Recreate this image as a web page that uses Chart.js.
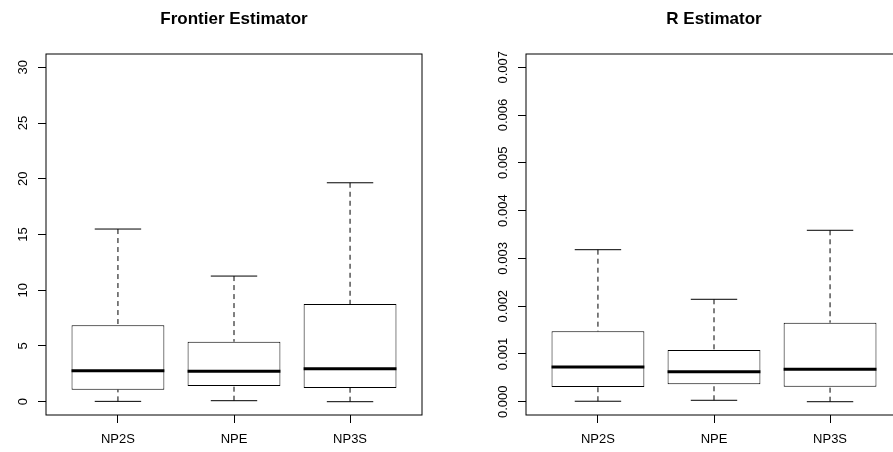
<!DOCTYPE html>
<html>
<head>
<meta charset="utf-8">
<script src="https://cdn.jsdelivr.net/npm/chart.js@4.4.1/dist/chart.umd.min.js"></script>
<style>
  html, body { margin: 0; padding: 0; background: #fff; overflow: hidden; }
  body { width: 893px; height: 452px; position: relative; }
  .panel { position: absolute; top: 0; height: 452px; }
  #left { left: 0; width: 446px; }
  #right { left: 446px; width: 480px; }
</style>
</head>
<body>
<div class="panel" id="left"><canvas id="frontierChart"></canvas></div>
<div class="panel" id="right"><canvas id="rChart"></canvas></div>
<script>
const categories = ['NP2S', 'NPE', 'NP3S'];

// five-number summaries
const frontierLow    = [0.03, 0.09, 0.0];
const frontierQ1     = [1.08, 1.41, 1.23];
const frontierMedian = [2.78, 2.73, 2.96];
const frontierQ3     = [6.85, 5.38, 8.76];
const frontierHigh   = [15.49, 11.27, 19.64];

const rLow    = [0.00001, 0.00003, 0.0];
const rQ1     = [0.000308, 0.000364, 0.000314];
const rMedian = [0.000726, 0.000628, 0.000678];
const rQ3     = [0.001474, 0.001082, 0.001654];
const rHigh   = [0.003182, 0.002144, 0.003588];

const frontierTicks = [0, 5, 10, 15, 20, 25, 30];
const rTicks = [0, 0.001, 0.002, 0.003, 0.004, 0.005, 0.006, 0.007];

const FONT = "'Liberation Sans', Arial, Helvetica, sans-serif";

// whiskers, caps, medians, frame and rotated y labels
const boxPlugin = {
    id: 'boxWhiskers',
    afterDatasetsDraw(chart, args, o) {
        const { ctx, chartArea } = chart;
        const x = chart.scales.x, y = chart.scales.y;
        const line = (x1, y1, x2, y2) => {
            ctx.beginPath();
            ctx.moveTo(x1, y1);
            ctx.lineTo(x2, y2);
            ctx.stroke();
        };
        ctx.save();
        ctx.strokeStyle = '#000';
        categories.forEach((c, i) => {
            const pos = i + 1;
            const cx = x.getPixelForValue(pos);
            const yLow = y.getPixelForValue(o.low[i]);
            const yHigh = y.getPixelForValue(o.high[i]);
            const yQ1 = y.getPixelForValue(o.q1[i]);
            const yQ3 = y.getPixelForValue(o.q3[i]);
            const yMed = y.getPixelForValue(o.median[i]);

            ctx.lineWidth = 1;
            ctx.setLineDash([5, 4]);
            line(cx, yHigh, cx, yQ3);
            line(cx, yLow, cx, yQ1);
            ctx.setLineDash([]);
            line(x.getPixelForValue(pos - 0.2), yHigh, x.getPixelForValue(pos + 0.2), yHigh);
            line(x.getPixelForValue(pos - 0.2), yLow, x.getPixelForValue(pos + 0.2), yLow);

            ctx.lineWidth = 3;
            line(x.getPixelForValue(pos - 0.4), yMed, x.getPixelForValue(pos + 0.4), yMed);
        });

        ctx.lineWidth = 1;
        ctx.strokeRect(chartArea.left, chartArea.top, chartArea.width, chartArea.height);

        ctx.fillStyle = '#000';
        ctx.font = '13px ' + FONT;
        ctx.textAlign = 'center';
        ctx.textBaseline = 'middle';
        y.ticks.forEach(t => {
            ctx.save();
            ctx.translate(chartArea.left - 23, y.getPixelForValue(t.value));
            ctx.rotate(-Math.PI / 2);
            ctx.fillText(t.label, 0, 0);
            ctx.restore();
        });
        ctx.restore();
    }
};

function makeBoxChart(canvasId, cfg) {
    const boxes = categories.map((c, i) => ({ x: i + 1, y: [cfg.q1[i], cfg.q3[i]] }));
    return new Chart(document.getElementById(canvasId), {
        type: 'bar',
        data: {
            datasets: [{
                data: boxes,
                backgroundColor: '#fff',
                borderColor: '#000',
                borderWidth: 1,
                borderSkipped: false,
                barPercentage: 0.8,
                categoryPercentage: 1
            }]
        },
        options: {
            responsive: true,
            maintainAspectRatio: false,
            animation: false,
            events: [],
            layout: { padding: { left: 0, right: 24, top: 0, bottom: 0 } },
            plugins: {
                legend: { display: false },
                tooltip: { enabled: false },
                title: {
                    display: true,
                    fullSize: false,
                    text: cfg.title,
                    color: '#000',
                    font: { family: FONT, size: 17, weight: 'bold', lineHeight: 1.2 },
                    padding: { top: 9.3, bottom: 24.3 }
                },
                boxWhiskers: cfg
            },
            scales: {
                x: {
                    type: 'linear',
                    offset: false,
                    min: 0.38,
                    max: 3.62,
                    afterBuildTicks: s => { s.ticks = categories.map((c, i) => ({ value: i + 1 })); },
                    afterFit: s => { s.height = 37; },
                    ticks: {
                        autoSkip: false,
                        maxRotation: 0,
                        padding: 9,
                        color: '#000',
                        font: { family: FONT, size: 13 },
                        callback: v => categories[v - 1]
                    },
                    grid: { offset: false, drawOnChartArea: false, tickLength: 8, color: '#000' },
                    border: { display: false }
                },
                y: {
                    min: cfg.min,
                    max: cfg.max,
                    afterBuildTicks: s => { s.ticks = cfg.ticks.map(v => ({ value: v })); },
                    afterFit: s => { s.width = cfg.axisWidth; },
                    ticks: { display: false, callback: cfg.format },
                    grid: { drawOnChartArea: false, tickLength: 8, color: '#000' },
                    border: { display: false }
                }
            }
        },
        plugins: [boxPlugin]
    });
}

makeBoxChart('frontierChart', {
    title: 'Frontier Estimator',
    low: frontierLow, q1: frontierQ1, median: frontierMedian, q3: frontierQ3, high: frontierHigh,
    ticks: frontierTicks,
    min: -1.193, max: 31.193,
    axisWidth: 46,
    format: v => String(v)
});

makeBoxChart('rChart', {
    title: 'R Estimator',
    low: rLow, q1: rQ1, median: rMedian, q3: rQ3, high: rHigh,
    ticks: rTicks,
    min: -0.000278, max: 0.007278,
    axisWidth: 80,
    format: v => v.toFixed(3)
});
</script>
</body>
</html>
